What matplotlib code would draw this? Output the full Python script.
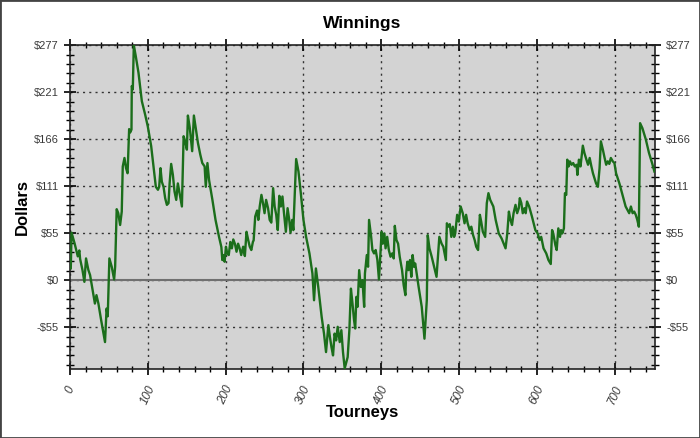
import matplotlib
matplotlib.use("Agg")
import matplotlib.pyplot as plt
from matplotlib.ticker import MultipleLocator, FixedLocator
import numpy as np

plt.rcParams["font.family"] = ["Liberation Sans", "DejaVu Sans"]

# tourney number and running winnings
tourneys = [1, 2, 6, 10, 12, 13, 16, 18.5, 20.6, 23.6, 25.8, 28.8, 32, 34, 36.5, 40, 45, 47, 48.5,
            50.6, 53.6, 56.7, 58, 60, 62, 64.4, 66.5, 67.8, 70, 72, 74, 76, 77.3, 79, 79.4, 80.7, 82,
            84.5, 88, 92.3, 96.6, 100, 104.3, 107.3, 110.3, 113, 114.6, 116.3, 118, 120.2, 122.3,
            124.5, 126.6, 128, 130, 132.2, 134.3, 136.5, 138.6, 140.8, 143.8, 146, 148, 150.2,
            151.5, 154, 157, 159.2, 161.8, 164.4, 167.4,
            170, 173, 174.5, 176.6, 178.7, 183, 187, 191.5, 194.5, 195.7, 197, 198.7, 200.4, 202,
            204, 206, 208, 209.8, 212, 214, 216, 218, 220, 222.5, 224.7, 226.8, 229, 231, 233, 235,
            236, 238, 240.4, 242, 243.8, 246, 248, 250, 252, 254.5, 256.6, 258.7, 261, 263, 265,
            267, 269, 271, 273, 275, 277.4, 279.6, 281.7, 283.4, 285.5, 287, 290.6, 293.6, 296.6,
            300, 303.4, 307.7, 311.5, 313.6, 316, 319, 323.4, 326.4, 329, 332, 334, 336, 338, 340,
            342, 344, 346.6, 348.7, 350.8, 353, 356.8, 359, 361, 363, 365, 366.5, 368, 369.5,
            371.6, 373.7, 375.8, 378, 379, 381.4, 383, 384.3, 387, 388.6, 390.7, 392.8, 395, 397,
            398.7, 400.4, 402, 404, 405.5, 407.6, 409.7, 411.9, 414, 416, 417.4, 419.5, 421.6,
            423.7, 426.7, 428.8, 431, 432, 433.5, 435, 436.9, 438.6, 440.3, 442, 443.6, 448, 452,
            455.5, 458.5, 459.7, 461.9, 464.8, 469, 471, 474.6, 477.5, 479.7, 483, 484.3, 486, 488,
            490, 492, 493.6, 495, 497.5, 499.6, 502, 504.7, 507, 509, 511, 513.6, 515.7, 518, 520,
            522, 524.4, 526.7, 528.4, 530.5, 533.5, 535.6, 537.7, 540,
            544, 547, 551, 554.7, 559.7, 561.9, 564, 566, 568, 570, 572.5, 574.6, 576.7, 578, 580,
            581.8, 584, 585.6, 587.3, 590, 593.6, 598, 601, 603.4, 605.5, 608.5, 612, 614.8, 617.8,
            619.5, 621, 623.7, 625.4, 627.5, 629.7, 631, 632.6, 634.7, 636, 637.7, 639, 640.7,
            642.4, 644.5, 646.6, 648.7, 651, 652, 654, 656, 659, 661, 663.6, 665.7, 667.8, 670,
            672, 674, 676, 678.4, 680.5, 682.2, 684.7, 687, 689, 691, 693, 695, 697.5, 699.6,
            701.7, 706, 710, 714, 718.6, 720.8, 723, 725, 727, 729, 731, 732.6, 735.6, 740, 744,
            748, 751]
winnings = [14, 56, 43, 28, 35, 25, 12, -2, 25.6, 12, 6, -10, -27.6, -17.7, -27.6, -47, -73, -33.5,
            -42.6, 25.6, 15.8, 0.8, 15.8, 83.6, 79, 65, 80.8, 134, 144, 132, 126, 178, 174, 177.5,
            228.7, 224.8, 277, 264, 244.5, 211, 195, 181, 158, 134, 110, 106.5, 110, 132, 116, 110,
            96.6, 88.7, 90.7, 114, 137, 124, 104.5, 94.6, 114, 102.5, 86.8, 169.6, 163.6, 153.8,
            194, 179, 152, 194, 177.4, 161.7, 148,
            138, 134, 110, 138, 118, 94.6, 71, 51, 39, 23.7, 29.6, 21.7, 39.4, 31.5, 29.6, 45, 37.5,
            48, 42.6, 33.5, 43, 37.5, 29.6, 39.4, 28.4, 57, 47.3, 39.4, 35.5, 45, 47, 75, 82, 71,
            86.8, 100.5, 90.7, 78.9, 94.6, 84.8, 71, 67.8, 108.4, 86.8, 77, 59, 99.4, 86.8, 98.6,
            78.9, 57, 84.8, 71, 56, 71, 59, 142.7, 128, 102.5, 71, 51, 31.5, 8, -23.7, 13.8, -7.9,
            -43.4, -63, -84.8, -53, -67, -79, -88.7, -63, -71, -55, -73, -59, -84.8, -104, -90.7,
            -59, -10, -27.6, -47, -57, -19.7, -31.5, 11.8, -8, 0, -31.5, 7.9, 29.6, 15.8, 71, 51,
            35.5, 31.5, 35.5, 23.7, 0.8, 27.6, 57, 43, 55, 37.5, 51, 35.5, 27.6, 31.5, 25.6, 64,
            47.3, 43, 27.6, 11.8, -6, -17.7, 7.9, 21.7, 11.8, 23.7, 3.9, 29.6, 15.8, 19.7, -8,
            -31.5, -69, -23.7, 53, 37.5, 27.6, 11.8, 3.9, 51, 43, 39.4, 23.7, 67, 63, 66, 51, 63,
            51, 55, 77, 69, 86.8, 78.9, 67, 77, 67, 59, 63, 53, 47.3, 39.4, 35.5, 77, 69, 57, 51,
            90.7, 102.5, 94.6,
            86.8, 71, 55, 49, 37.5, 55, 80.8, 71, 65, 78.9, 88.7, 78.9, 84.8, 96.6, 90.7, 78.9,
            84.8, 78.9, 92.7, 86.8, 75, 59, 55, 47.3, 51, 37.5, 31.5, 23.7, 19, 59, 55, 41.4, 35.5,
            61, 51, 59, 55, 61, 102.5, 100.5, 142, 134, 140, 136, 138, 134, 136, 124, 142, 134,
            158.5, 150, 142, 136, 144, 134, 126, 120, 114, 110, 132, 163.6, 154, 144, 136, 140,
            137, 144, 140, 138, 126, 114, 100.5, 86.8, 78.9, 86.8, 78.9, 80.8, 77, 71, 63, 185,
            179, 165.6, 150, 138, 128]

step = 277 / 5
y_major = [-step, 0, step, 2 * step, 3 * step, 4 * step, 5 * step]
y_labels = ["-$55", "$0", "$55", "$111", "$166", "$221", "$277"]

fig = plt.figure(figsize=(7, 4.38), dpi=100)
fig.patches.append(plt.Rectangle((0, 0), 1, 1, transform=fig.transFigure, fill=False,
                                 edgecolor="#444444", linewidth=2))
ax = fig.add_axes([0.1, 0.157, 0.836, 0.740])
ax.set_facecolor("#d3d3d3")

ax.axhline(0, color="#707070", linewidth=1.5, zorder=2)
ax.plot(tourneys, winnings, color="#1b6e1b", linewidth=1.7, zorder=3)

ax.set_xlim(0, 752)
ax.set_ylim(-105, 277)

ax.xaxis.set_major_locator(MultipleLocator(100))
ax.xaxis.set_minor_locator(MultipleLocator(20))
ax.yaxis.set_major_locator(FixedLocator(y_major))
ax.yaxis.set_minor_locator(MultipleLocator(step / 5))
ax.set_yticklabels(y_labels)

ax.grid(True, which="major", linestyle=(0, (1.5, 3)), color="#333333", linewidth=1)

ax.tick_params(axis="both", which="major", direction="inout", length=9, width=1.2,
               labelsize=8, labelcolor="#3a3a3a", right=True, labelright=True)
ax.tick_params(axis="both", which="minor", direction="inout", length=6, width=1, right=True)
ax.tick_params(axis="x", which="both", top=True)
ax.tick_params(axis="x", which="major", labelrotation=65, pad=6, labelsize=8.5)
ax.tick_params(axis="x", which="minor", length=5)
for lbl in ax.get_xticklabels():
    lbl.set_style("italic")
    lbl.set_ha("center")

for side in ["left", "bottom", "right", "top"]:
    ax.spines[side].set_color("#222222")
    ax.spines[side].set_linewidth(1.2)

ax.set_title("Winnings", fontsize=12.5, fontweight="bold", pad=12)
ax.set_xlabel("Tourneys", fontsize=12, fontweight="bold")
ax.set_ylabel("Dollars", fontsize=12, fontweight="bold")
ax.xaxis.set_label_coords(0.5, -0.11)
ax.yaxis.set_label_coords(-0.068, 0.5)

fig.savefig("out.png", dpi=100)
